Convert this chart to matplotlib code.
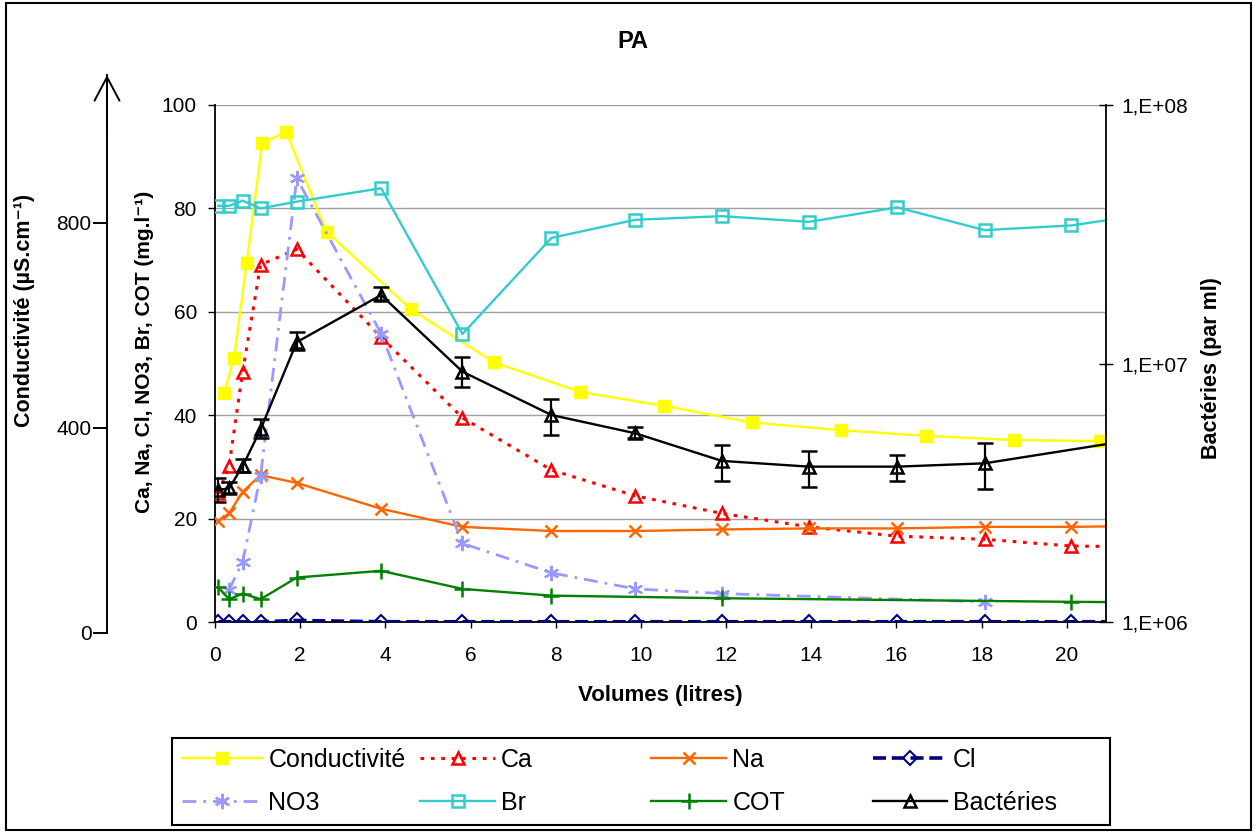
import numpy as np
import matplotlib
matplotlib.use("Agg")
import matplotlib.pyplot as plt
from matplotlib.patches import Rectangle
from matplotlib.ticker import FuncFormatter, NullLocator, FixedLocator

plt.rcParams['font.family'] = ['Liberation Sans', 'DejaVu Sans']

# ---------------- data ----------------
vol = [0.08, 0.33, 0.65, 1.07, 1.92, 3.9, 5.81, 7.9, 9.87, 11.9, 13.95, 16.02, 18.07, 20.1, 22.0]

vol_cond = [0.21, 0.45, 0.74, 1.11, 1.67, 2.62, 4.6, 6.56, 8.58, 10.55, 12.61, 14.69, 16.7, 18.76, 20.78, 22.8]
cond = [443, 511, 694, 926, 948, 755, 605, 502, 445, 418, 386, 371, 360, 352, 350, 345]   # µS/cm (plotted /10)

ca = [24.9, 30.2, 48.4, 69.1, 72.1, 55.1, 39.5, 29.4, 24.4, 21.0, 18.4, 16.6, 16.0, 14.7, 14.5]
na = [19.6, 21.0, 25.2, 28.4, 26.9, 21.9, 18.4, 17.6, 17.6, 17.9, 18.1, 18.1, 18.4, 18.4, 18.6]
cl = [0.05, 0.05, 0.05, 0.05, 0.3, 0.05, 0.05, 0.05, 0.05, 0.05, 0.05, 0.05, 0.05, 0.05, 0.05]
br = [80.5, 80.5, 81.5, 80.0, 81.3, 83.9, 55.7, 74.3, 77.8, 78.5, 77.4, 80.2, 75.8, 76.7, 79.0]

vol_no3 = [0.33, 0.65, 1.07, 1.92, 3.9, 5.81, 7.9, 9.87, 11.9, 18.07]
no3 = [6.2, 11.7, 28.3, 85.8, 55.8, 15.2, 9.5, 6.4, 5.5, 3.9]

vol_cot = [0.08, 0.33, 0.65, 1.07, 1.92, 3.9, 5.81, 7.9, 11.9, 20.1, 22.0]
cot = [6.7, 4.4, 5.5, 4.4, 8.6, 9.9, 6.4, 5.1, 4.6, 3.9, 3.8]

vol_bact = [0.08, 0.33, 0.65, 1.07, 1.92, 3.9, 5.81, 7.9, 9.87, 11.9, 13.95, 16.02, 18.07, 22.0]
bact = [3.24e6, 3.29e6, 4.01e6, 5.56e6, 1.21e7, 1.84e7, 9.3e6, 6.32e6, 5.37e6, 4.2e6, 3.99e6, 3.99e6, 4.11e6, 5.2e6]
bact_hi = [3.6e6, 3.49e6, 4.26e6, 6.09e6, 1.32e7, 1.97e7, 1.06e7, 7.29e6, 5.67e6, 4.84e6, 4.59e6, 4.43e6, 4.91e6, 5.2e6]
bact_lo = [2.9e6, 3.15e6, 3.81e6, 5.14e6, 1.13e7, 1.76e7, 8.13e6, 5.29e6, 5.14e6, 3.52e6, 3.34e6, 3.51e6, 3.26e6, 5.2e6]

x_ticks = list(range(0, 21, 2))
y_ticks = [0, 20, 40, 60, 80, 100]
cond_ticks = [0, 400, 800]

title = "PA"
xlabel = "Volumes (litres)"
ylabel_left = "Ca, Na, Cl, NO3, Br, COT (mg.l⁻¹)"
ylabel_cond = "Conductivité (µS.cm⁻¹)"
ylabel_right = "Bactéries (par ml)"

# ---------------- figure ----------------
W, H = 1256, 832
fig = plt.figure(figsize=(W / 100, H / 100), dpi=100)

def fx(px):
    return px / W

def fy(py):
    return 1 - py / H

ax = fig.add_axes([fx(215), fy(622), (1106 - 215) / W, (622 - 105) / H])
ax.set_xlim(0, 20.92)
ax.set_ylim(0, 100)
ax.set_axisbelow(True)
ax.yaxis.grid(True, color='#a0a0a0', lw=1.0)
ax.set_xticks(x_ticks)
ax.set_yticks(y_ticks)
for s in ['top', 'right']:
    ax.spines[s].set_visible(False)
for s in ['left', 'bottom']:
    ax.spines[s].set_color('black')
    ax.spines[s].set_linewidth(1.3)
ax.tick_params(axis='y', direction='out', length=5, width=1, labelsize=15, pad=8)
ax.tick_params(axis='x', direction='out', length=4, width=1, labelsize=15, pad=13)

lw = 1.7
l_cond, = ax.plot(vol_cond, np.array(cond) / 10.0, color='#FFFF00', lw=lw, marker='s', ms=8,
                  mfc='#FFFF00', mec='#FFFF00', label='Conductivité', zorder=3)
l_ca, = ax.plot(vol, ca, color='#FF0000', lw=2.2, ls=(0, (1.2, 2.2)), marker='^', ms=9,
                mfc='none', mec='#FF0000', mew=1.8, label='Ca', zorder=3)
l_na, = ax.plot(vol, na, color='#FF6600', lw=lw, marker='x', ms=9, mew=1.8,
                mec='#FF6600', label='Na', zorder=3)
l_cl, = ax.plot(vol, cl, color='#000080', lw=2.6, ls=(0, (3.6, 1.6)), marker='D', ms=7,
                mfc='none', mec='#000080', mew=1.5, label='Cl', zorder=3)
l_no3, = ax.plot(vol_no3, no3, color='#9999FF', lw=2.0, ls=(0, (5, 2.5, 1, 2.5)),
                 marker=(6, 2, 0), ms=11, mew=1.6, mec='#9999FF', label='NO3', zorder=3)
l_br, = ax.plot(vol, br, color='#33CCCC', lw=lw, marker='s', ms=9, mfc='none',
                mec='#33CCCC', mew=1.8, label='Br', zorder=3)
l_cot, = ax.plot(vol_cot, cot, color='#008000', lw=lw, marker='+', ms=11, mew=1.8,
                 mec='#008000', label='COT', zorder=3)

ax2 = ax.twinx()
ax2.set_yscale('log')
ax2.set_ylim(1e6, 1e8)
ax2.yaxis.set_major_locator(FixedLocator([1e6, 1e7, 1e8]))
ax2.yaxis.set_minor_locator(NullLocator())
ax2.yaxis.set_major_formatter(FuncFormatter(lambda v, p: "1,E+%02d" % int(round(np.log10(v)))))
for s in ['top', 'left', 'bottom']:
    ax2.spines[s].set_visible(False)
ax2.spines['right'].set_color('black')
ax2.spines['right'].set_linewidth(1.3)
ax2.tick_params(axis='y', direction='inout', length=10, width=1, labelsize=15, pad=6)

b = np.array(bact)
yerr = [b - np.array(bact_lo), np.array(bact_hi) - b]
eb = ax2.errorbar(vol_bact, bact, yerr=yerr, color='black', lw=lw, marker='^', ms=9,
                  mfc='none', mec='black', mew=1.8, ecolor='black', elinewidth=1.6,
                  capsize=6, capthick=1.6, zorder=4)
l_bact = eb[0]

# Conductivity arrow axis
top_px, bot_px = 75, 633
ax3 = fig.add_axes([fx(107), fy(bot_px), 0.0005, (bot_px - top_px) / H])
ax3.set_ylim(0, (bot_px - top_px) / 0.513)
ax3.patch.set_visible(False)
for s in ['top', 'right', 'bottom']:
    ax3.spines[s].set_visible(False)
ax3.spines['left'].set_linewidth(1.4)
ax3.set_xticks([])
ax3.set_yticks(cond_ticks)
ax3.tick_params(axis='y', direction='out', length=10, width=1.4, labelsize=15, pad=1)
ax3.annotate('', xy=(0, 1), xytext=(0, 0.9), xycoords='axes fraction',
             arrowprops=dict(arrowstyle='->,head_length=0.85,head_width=0.45',
                             mutation_scale=20, lw=1.4, color='black',
                             shrinkA=0, shrinkB=0))

# Texts
fig.text(fx(633), fy(41), title, ha='center', va='center', fontsize=17, fontweight='bold')
fig.text(fx(660), fy(695), xlabel, ha='center', va='center', fontsize=16, fontweight='bold')
fig.text(fx(145), fy(352), ylabel_left, ha='center', va='center', rotation=90,
         fontsize=15, fontweight='bold')
fig.text(fx(25), fy(310), ylabel_cond, ha='center', va='center', rotation=90,
         fontsize=15.5, fontweight='bold')
fig.text(fx(1212), fy(368), ylabel_right, ha='center', va='center', rotation=90,
         fontsize=15.5, fontweight='bold')

# Legend (Excel-like grid)
fig.add_artist(Rectangle((fx(172), fy(825)), (1110 - 172) / W, (825 - 738) / H,
                         transform=fig.transFigure, fill=False, lw=1.5, ec='black'))
rows = [[l_cond, l_ca, l_na, l_cl], [l_no3, l_br, l_cot, l_bact]]
labels = [['Conductivité', 'Ca', 'Na', 'Cl'], ['NO3', 'Br', 'COT', 'Bactéries']]
col_x = [182, 420, 651, 873]
col_hl = [80, 75, 75, 74]
row_y = [760, 803]
fs = 18
for r in range(2):
    for c in range(4):
        lg = fig.legend([rows[r][c]], [labels[r][c]], loc='center left',
                        bbox_to_anchor=(fx(col_x[c]), fy(row_y[r])),
                        bbox_transform=fig.transFigure, frameon=False, fontsize=fs,
                        borderpad=0, borderaxespad=0, handlelength=col_hl[c] / (fs * 100 / 72),
                        handletextpad=0.25, numpoints=1)

# Outer border
fig.add_artist(Rectangle((fx(6), fy(830)), (1251 - 6) / W, (830 - 3) / H,
                         transform=fig.transFigure, fill=False, lw=1.5, ec='black'))

fig.savefig('out.png', dpi=100)
